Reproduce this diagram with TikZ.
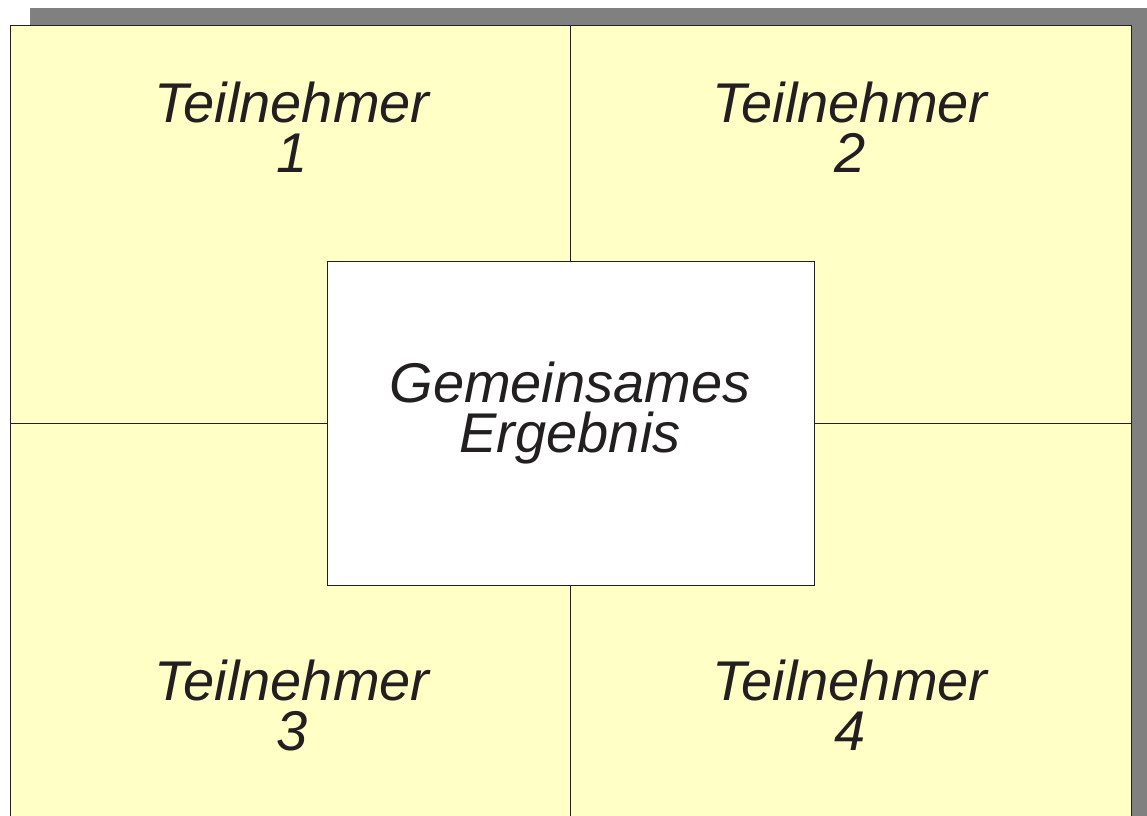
\documentclass[tikz,border=0pt]{standalone}
\usepackage{fontspec}
\setmainfont{Liberation Sans}
\definecolor{pale}{HTML}{FFFFC6}
\definecolor{shadowgray}{HTML}{808080}
\definecolor{ink}{HTML}{231F20}
\tikzset{
  lbl/.style={align=center, text=ink, font=\fontsize{56}{50}\selectfont\itshape, inner sep=0pt, anchor=base},
  edge/.style={draw=ink, line width=0.8pt}
}
\begin{document}
\begin{tikzpicture}[x=1pt,y=-1pt]
\useasboundingbox (0,0) rectangle (1147,815);
\clip (0,0) rectangle (1147,815);
\fill[shadowgray] (30,8) rectangle (1160,830);
\fill[pale] (10,25) rectangle (1131,830);
\draw[edge] (10,830) -- (10,25) -- (1131,25) -- (1131,830);
\coordinate (top) at (570,25);
\coordinate (bot) at (570,830);
\coordinate (left) at (10,423);
\coordinate (right) at (1131,423);
\draw[edge] (top) -- (bot);
\draw[edge] (left) -- (right);
\node[draw=ink, line width=0.8pt, fill=white, minimum width=487pt, minimum height=324pt, inner sep=0pt] (center) at (570.5,423) {};
\node[lbl] (t1) at (292,172) {Teilnehmer\\1};
\node[lbl] (t2) at (850,172) {Teilnehmer\\2};
\node[lbl] (t3) at (292,750) {Teilnehmer\\3};
\node[lbl] (t4) at (850,750) {Teilnehmer\\4};
\node[lbl] (g) at (570,452) {Gemeinsames\\Ergebnis};
\end{tikzpicture}
\end{document}
